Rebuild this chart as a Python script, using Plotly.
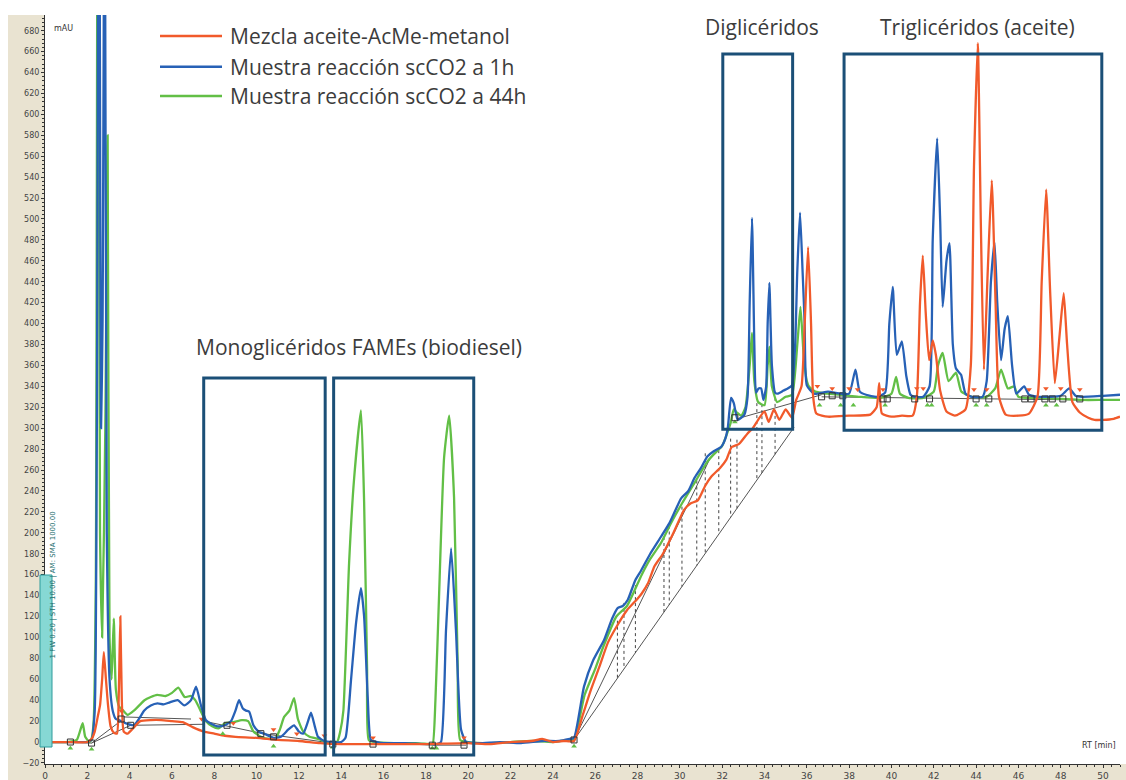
import plotly.graph_objects as go

# ---------------- data (retention time in min, signal in mAU) ----------------
t_orange = [0, 1.0, 1.2, 2.0, 2.2, 2.35, 2.5, 2.6, 2.7, 2.78, 2.88, 2.98, 3.1, 3.25, 3.4, 3.48, 3.56, 3.63, 3.72,
            3.9, 4.2, 4.5, 5.0, 5.5, 6.0, 6.5, 7.0, 7.5, 8.0, 8.5, 9.0, 10.0, 11.0, 12.0, 13.0, 14.0, 16.0, 18.0,
            20.0, 21.0, 22.0, 23.0, 23.5, 24.0, 24.5, 25.0, 25.4, 25.8, 26.2, 26.6, 27.0, 27.5, 28.0, 28.2, 28.5,
            28.8, 29.2, 29.7, 30.2, 30.5, 30.85, 31.2, 31.5, 31.9, 32.2, 32.45, 32.8, 33.2, 33.45, 33.7, 34.0,
            34.2, 34.45, 34.7, 35.0, 35.3, 35.5, 35.75, 35.9, 36.06, 36.2, 36.3, 36.45, 37.0, 38.0, 39.0, 39.3,
            39.42, 39.55, 40.0, 40.5, 41.0, 41.2, 41.35, 41.48, 41.62, 41.78, 41.95, 42.1, 42.3, 42.6, 43.0, 43.5,
            43.75, 43.9, 44.08, 44.22, 44.37, 44.55, 44.74, 44.92, 45.08, 45.4, 46.0, 46.5, 46.9, 47.1, 47.31,
            47.5, 47.72, 47.95, 48.14, 48.3, 48.55, 48.9, 49.3, 49.6, 50.0, 50.5, 50.8]
v_orange = [0, 0, 0, 0, 3, 10, 25, 35, 60, 86, 60, 35, 15, 9, 8, 40, 120, 40, 10,
            8, 14, 20, 21, 21, 20, 19, 14, 10, 8, 6, 5, 4, 2, 1, -1, -2, -2, -2,
            -1, -2, 0, 1, 3, 0, 1, 1, 25, 50, 72, 95, 110, 126, 137, 142, 152,
            168, 180, 200, 222, 228, 231, 245, 254, 262, 270, 282, 285, 295, 300, 308, 316,
            306, 318, 308, 318, 310, 327, 340, 400, 473, 400, 330, 314, 311, 312, 313, 320,
            343, 314, 311, 312, 312, 330, 420, 465, 410, 365, 384, 370, 336, 316, 312, 318,
            360, 550, 668, 500, 356, 450, 537, 420, 330, 313, 312, 314, 330, 440, 528,
            430, 343, 390, 429, 380, 325, 315, 310, 308, 308, 309, 311]

t_blue = [0, 1.0, 1.2, 2.0, 2.2, 2.35, 2.45, 2.55, 2.65, 2.72, 2.82, 2.92, 3.05, 3.2, 3.35, 3.5, 3.8, 4.2, 4.5,
          4.68, 5.0, 5.32, 5.6, 5.9, 6.27, 6.58, 6.9, 7.14, 7.37, 7.6, 7.9, 8.16, 8.5, 8.79, 9.0, 9.17, 9.35,
          9.5, 9.65, 9.85, 10.1, 10.36, 10.8, 11.15, 11.5, 11.77, 12.0, 12.2, 12.4, 12.57, 12.75, 12.9, 13.2,
          13.6, 14.0, 14.2, 14.46, 14.7, 14.93, 15.08, 15.25, 15.4, 15.7, 16.0, 17.0, 18.0, 18.5, 18.71, 18.95,
          19.19, 19.42, 19.66, 19.9, 20.5, 21.5, 22.5, 23.5, 24.3, 24.8, 25.0, 25.47, 25.9, 26.42, 26.8, 27.06,
          27.3, 27.54, 27.9, 28.17, 28.6, 29.1, 29.5, 29.8, 30.06, 30.4, 30.68, 31.0, 31.3, 31.6, 31.95, 32.15,
          32.27, 32.42, 32.55, 32.73, 32.9, 33.05, 33.2, 33.3, 33.41, 33.52, 33.6, 33.72, 33.84, 33.95, 34.08,
          34.15, 34.23, 34.35, 34.5, 34.62, 34.9, 35.1, 35.3, 35.45, 35.55, 35.68, 35.8, 35.9, 36.0, 36.35,
          37.0, 37.6, 38.0, 38.3, 38.5, 38.8, 39.3, 39.7, 39.9, 40.06, 40.25, 40.49, 40.7, 40.9, 41.1, 41.5,
          41.8, 41.95, 42.16, 42.3, 42.42, 42.6, 42.74, 42.9, 43.05, 43.29, 43.5, 43.8, 44.3, 44.5, 44.7,
          44.87, 45.0, 45.18, 45.35, 45.5, 45.7, 45.9, 46.27, 46.5, 47.0, 48.0, 48.4, 48.7, 49.0, 50.0, 50.8]
v_blue = [0, 0, 0, 0, 2, 30, 300, 1000, 300, 400, 900, 200, 60, 30, 22, 21, 18, 16, 24,
          30, 35, 37, 36, 38, 40, 35, 40, 53, 35, 21, 17, 15, 16, 20, 30, 40, 32,
          30, 29, 16, 10, 8, 4, 5, 12, 16, 10, 8, 18, 28, 15, 5, 1,
          0, 0, 4, 59, 114, 147, 120, 43, 2, 0, -1, -1, -2, -2, 0, 107,
          185, 107, 12, 0, -1, 0, -1, 1, 1, 3, 4, 53, 78, 97.5, 118, 128,
          130, 136, 155, 164, 180, 196, 209, 222, 233, 240, 252, 262, 273, 278, 282, 290,
          301, 329, 324, 308, 310, 313, 330, 420, 501, 380, 334, 338, 338, 327, 340,
          400, 439, 360, 334, 333, 336, 338, 341, 380, 450, 506, 450, 400, 341, 333,
          335, 333, 333, 356, 335, 332, 330, 334, 400, 435, 370, 383, 350, 332, 330, 330,
          340, 480, 577, 500, 416, 460, 477, 380, 357, 351, 333, 330, 330, 345, 440,
          478, 420, 365, 395, 407, 360, 333, 340, 332, 330, 331, 338, 331, 330, 331, 332]

t_green = [0, 1.0, 1.5, 1.78, 1.9, 2.1, 2.2, 2.3, 2.4, 2.5, 2.6, 2.7, 2.85, 2.96, 3.05, 3.15, 3.25, 3.35, 3.5,
           3.7, 3.9, 4.2, 4.5, 4.7, 5.0, 5.3, 5.7, 6.0, 6.3, 6.6, 6.9, 7.1, 7.35, 7.6, 7.9, 8.2, 8.5, 8.9,
           9.3, 9.6, 9.85, 10.2, 10.6, 10.9, 11.1, 11.3, 11.55, 11.77, 11.95, 12.2, 12.5, 12.9, 13.3, 13.8,
           13.95, 14.1, 14.37, 14.6, 14.93, 15.08, 15.22, 15.3, 15.6, 16.5, 17.5, 18.2, 18.32, 18.45, 18.62,
           18.86, 19.1, 19.33, 19.5, 19.62, 20.0, 21.0, 22.0, 23.0, 24.0, 24.8, 25.0, 25.5, 26.0, 26.4, 27.0,
           27.5, 28.2, 28.6, 29.1, 29.6, 30.1, 30.7, 31.3, 31.6, 32.0, 32.4, 32.55, 32.7, 32.9, 33.1, 33.3,
           33.41, 33.52, 33.7, 34.0, 34.15, 34.23, 34.35, 34.6, 35.0, 35.3, 35.55, 35.7, 35.85, 36.0, 36.1,
           36.4, 37.0, 38.0, 38.5, 39.5, 40.0, 40.22, 40.4, 40.8, 41.5, 42.0, 42.2, 42.42, 42.7, 43.05, 43.3,
           43.8, 44.5, 44.9, 45.18, 45.5, 45.8, 46.0, 47.0, 48.0, 49.0, 50.0, 50.8]
v_green = [0, 0, 2, 18, 5, 0, 3, 20, 150, 1000, 200, 100, 300, 580, 100, 60, 118, 50, 34,
           30, 26, 30, 36, 40, 43, 45, 44, 47, 52, 43, 44, 40, 30, 20, 15, 13, 18, 19,
           21, 20, 10, 5, 3, 4, 12, 24, 30, 42, 22, 10, 5, 3, 0, 0,
           10, 30, 171, 250, 317, 230, 70, 2, 0, -1, -1, -2, -2, 40, 139,
           272, 312, 234, 75, 2, 0, -1, 0, 1, 0, 2, 2, 45, 70, 92, 120,
           130, 160, 175, 190, 210, 228, 248, 268, 275, 283, 305, 318, 315, 312, 320, 360,
           391, 345, 325, 322, 360, 378, 340, 325, 330, 332, 380, 416, 370, 345, 340,
           335, 333, 331, 330, 329, 333, 349, 333, 329, 329, 335, 360, 372, 345, 353, 335,
           330, 330, 338, 356, 338, 340, 330, 329, 328, 327, 327, 327]

# integration baselines (segments separated by None)
t_base = [1.2, 2.2, None, 2.2, 3.7, None, 2.2, 4.05, None, 3.7, 6.9, None, 4.1, 7.5, None,
          7.5, 10.3, None, 10.3, 13.2, None, 13.6, 15.5, None, 18.3, 19.9, None,
          25.0, 35.4, None, 25.0, 31.4, None, 32.7, 36.7, None, 36.7, 48.9]
v_base = [0, -1, None, -1, 22, None, -1, 16, None, 24, 22, None, 16, 17, None,
          20, 8, None, 8, 0, None, -2, -2, None, -3, -3, None,
          2, 301, None, 2, 270, None, 309, 332, None, 330, 327]

# dotted drop lines of the gradient region
t_drop = [27.05, 27.36, 27.9, 29.25, 29.5, 30.1, 30.8, 31.2, 31.84, 32.4, 32.7, 33.64, 33.88, 34.5]
v_drop_top = [116, 133, 150, 196, 207, 225, 250, 276, 279, 290, 289, 324, 323, 329]

# peak-start/end markers (squares)
t_sq = [1.2, 2.2, 3.6, 4.05, 8.6, 10.2, 10.8, 13.6, 15.5, 18.3, 19.8, 25.0, 32.6, 36.7, 37.2, 37.7,
        39.6, 39.8, 41.1, 41.8, 44.0, 44.6, 46.3, 46.6, 47.25, 47.6, 48.1, 48.9]
v_sq = [0, -1, 22, 16, 16, 8, 5, -2, -2, -3, -3, 2, 310, 330, 331, 331,
        328, 328, 328, 328, 328, 328, 328, 328, 328, 328, 328, 328]

# peak-limit ticks of each run (triangles)
t_tri_orange = [3.6, 7.4, 8.9, 10.8, 11.9, 13.2, 15.5, 19.8, 36.5, 37.2, 38.0, 38.4, 39.6, 41.2, 41.5, 43.9,
                44.5, 46.5, 47.3, 48.0, 48.9]
v_tri_orange = [30, 22, 18, 12, 8, 6, 4, 4, 340, 338, 338, 337, 337, 338, 338, 337, 337, 337, 338, 338, 337]
t_tri_green = [1.2, 2.2, 8.4, 10.8, 13.6, 18.3, 18.5, 25.0, 32.6, 36.6, 37.6, 38.2, 39.7, 41.7, 41.9, 44.0,
               44.5, 47.3, 47.8]
v_tri_green = [-6, -7, 8, -4, -5, -6, -6, -4, 306, 322, 322, 322, 322, 322, 322, 322, 322, 322, 322]

# y and x ticks
y_ticks = list(range(-20, 700, 20))
x_ticks = list(range(0, 52, 2))

# annotation boxes (t0, t1, v0, v1) and labels
boxes = [(7.5, 13.24, -12.4, 348), (13.64, 20.26, -12.4, 348), (32.03, 35.33, 299, 657.7), (37.76, 49.94, 298, 657.7)]
labels = [("Monoglicéridos FAMEs (biodiesel)", 14.84, 377.6), ("Diglicéridos", 33.88, 683.5),
          ("Triglicéridos (aceite)", 44.05, 683.5)]

series_names = ["Mezcla aceite-AcMe-metanol", "Muestra reacción scCO2 a 1h", "Muestra reacción scCO2 a 44h"]
series_colors = ["#F15A2B", "#2761B6", "#62BF46"]

# ---------------- figure ----------------
fig = go.Figure()

fig.add_trace(go.Scatter(x=t_base, y=v_base, mode="lines", line=dict(color="#555555", width=1),
                         hoverinfo="skip", showlegend=False))
xd, yd = [], []
for t, top in zip(t_drop, v_drop_top):
    bottom = 2 + (t - 25.0) * (299.0 / 10.4)
    xd += [t, t, None]
    yd += [top, bottom, None]
fig.add_trace(go.Scatter(x=xd, y=yd, mode="lines", line=dict(color="#444444", width=1, dash="dot"),
                         hoverinfo="skip", showlegend=False))

for (tt, vv, nm, col) in [(t_green, v_green, series_names[2], series_colors[2]),
                          (t_blue, v_blue, series_names[1], series_colors[1]),
                          (t_orange, v_orange, series_names[0], series_colors[0])]:
    fig.add_trace(go.Scatter(x=tt, y=vv, mode="lines", name=nm,
                             line=dict(color=col, width=2.3, shape="spline", smoothing=0.5),
                             showlegend=False))

fig.add_trace(go.Scatter(x=t_tri_orange, y=v_tri_orange, mode="markers",
                         marker=dict(symbol="triangle-down", size=5, color=series_colors[0]),
                         hoverinfo="skip", showlegend=False))
fig.add_trace(go.Scatter(x=t_tri_green, y=v_tri_green, mode="markers",
                         marker=dict(symbol="triangle-up", size=5, color=series_colors[2]),
                         hoverinfo="skip", showlegend=False))
fig.add_trace(go.Scatter(x=t_sq, y=v_sq, mode="markers",
                         marker=dict(symbol="square-open", size=6, color="#333333", line=dict(width=1)),
                         hoverinfo="skip", showlegend=False))

for (x0, x1, y0, y1) in boxes:
    fig.add_shape(type="rect", xref="x", yref="y", x0=x0, x1=x1, y0=y0, y1=y1,
                  line=dict(color="#1B4F77", width=3), fillcolor="rgba(0,0,0,0)")

TEXT_FONT = dict(family="Open Sans", size=21, color="#3C3C3C")
for (txt, tx, ty) in labels:
    fig.add_annotation(x=tx, y=ty, xref="x", yref="y", text=txt, showarrow=False, font=TEXT_FONT)

# legend drawn manually
W, H, L, B = 1075.0, 749.0, 45.0, 764.0
leg_y = [36, 66.7, 96]
for nm, col, yy in zip(series_names, series_colors, leg_y):
    py = (B - yy) / H
    fig.add_shape(type="line", xref="paper", yref="paper", x0=(160 - L) / W, x1=(222 - L) / W, y0=py, y1=py,
                  line=dict(color=col, width=2.5))
    fig.add_annotation(xref="paper", yref="paper", x=(228 - L) / W, y=py, xanchor="left", yanchor="middle",
                       text=nm, showarrow=False, font=TEXT_FONT)

# beige instrument panels
beige = "#E9E3D1"
fig.add_shape(type="rect", xref="paper", yref="paper", x0=(8 - L) / W, x1=0, y0=-16 / H, y1=1,
              line=dict(width=0), fillcolor=beige, layer="below")
fig.add_shape(type="rect", xref="paper", yref="paper", x0=(8 - L) / W, x1=(1126 - L) / W, y0=-16 / H, y1=0,
              line=dict(width=0), fillcolor=beige, layer="below")

# teal info box
fig.add_shape(type="rect", xref="paper", yref="paper", x0=(40 - L) / W, x1=(52 - L) / W,
              y0=(B - 747) / H, y1=(B - 575) / H, line=dict(color="#2E9C9C", width=1), fillcolor="#86D8D4")
fig.add_annotation(xref="paper", yref="paper", x=(46 - L) / W, y=(B - 661) / H, textangle=-90,
                   text="1 FW 0.20 | STH 10.00 | AM: SMA 1000.00", showarrow=False,
                   font=dict(family="DejaVu Sans", size=7, color="#1F6F6F"))

fig.add_annotation(xref="paper", yref="paper", x=(52 - L) / W, y=(B - 22) / H, xanchor="left",
                   text="mAU", showarrow=False, font=dict(family="DejaVu Sans", size=8, color="#333333"))
fig.add_annotation(xref="paper", yref="paper", x=0.998, y=(B - 752) / H, xanchor="right",
                   text="RT [min]", showarrow=False, font=dict(family="DejaVu Sans", size=8, color="#333333"))

fig.update_layout(width=1126, height=780, margin=dict(l=45, r=6, t=15, b=16, autoexpand=False),
                  paper_bgcolor="white", plot_bgcolor="white", showlegend=False)
fig.update_xaxes(range=[0, 50.8], tickvals=x_ticks, showgrid=False, zeroline=False, showline=True,
                 automargin=False,
                 linecolor="#333333", linewidth=1, ticks="outside", ticklen=3, tickcolor="#333333",
                 tickfont=dict(family="DejaVu Sans", size=9, color="#444444"),
                 minor=dict(dtick=0.4, ticks="outside", ticklen=2, tickcolor="#333333"))
fig.update_yaxes(range=[-21, 695], tickvals=y_ticks, showgrid=False, zeroline=False, showline=True,
                 automargin=False,
                 linecolor="#333333", linewidth=1, ticks="outside", ticklen=3, tickcolor="#333333",
                 tickfont=dict(family="DejaVu Sans", size=8, color="#444444"),
                 minor=dict(dtick=4, ticks="outside", ticklen=2, tickcolor="#333333"))

fig.write_html("out.html", config={"displayModeBar": False},
               post_script="document.body.style.margin='0';document.body.style.overflow='hidden';")
